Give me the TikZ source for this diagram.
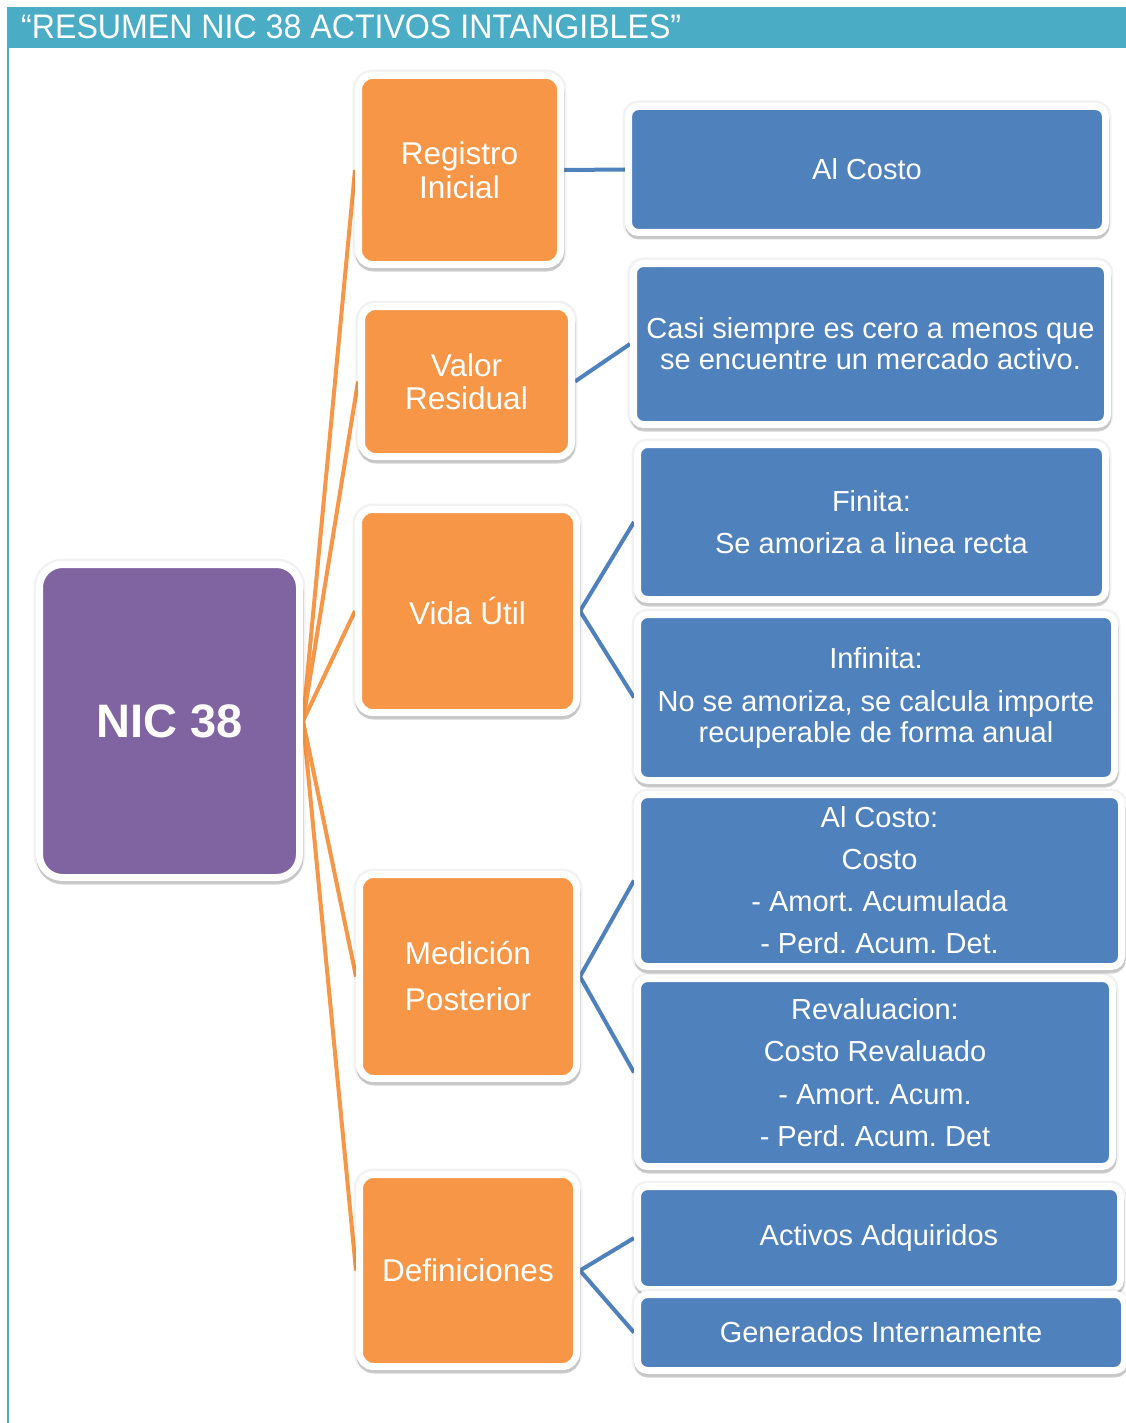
\documentclass[tikz,border=0pt]{standalone}
\usepackage{fontspec}
\setmainfont{Liberation Sans}
\newfontfamily\titlefont[FakeStretch=0.945]{Liberation Sans}
\usetikzlibrary{shadows}
\pgfdeclarelayer{background}
\pgfsetlayers{background,main}
\definecolor{orng}{HTML}{F79646}
\definecolor{blu}{HTML}{4F81BD}
\definecolor{purp}{HTML}{8064A2}
\definecolor{teal2}{HTML}{4BACC6}
\tikzset{
  boxbase/.style={draw=white, line width=7pt, inner sep=0pt, align=center, text=white,
    preaction={draw=black, draw opacity=0.05, line width=12pt},
    drop shadow={shadow xshift=0.5pt, shadow yshift=-3.5pt, opacity=0.3, fill=black!60, draw=black!60}},
  obox/.style={boxbase, fill=orng, rounded corners=14pt, font=\fontsize{31.5}{34}\selectfont},
  bbox/.style={boxbase, fill=blu, rounded corners=10pt, font=\fontsize{29}{31}\selectfont},
  pbox/.style={boxbase, fill=purp, rounded corners=23pt, font=\bfseries\fontsize{47}{50}\selectfont},
  oline/.style={draw=orng, line width=4pt},
  bline/.style={draw=blu, line width=4pt},
}
\begin{document}
\frenchspacing
\begin{tikzpicture}[x=1pt,y=-1pt]
\useasboundingbox (0,0) rectangle (1126,1423);
\begin{pgfonlayer}{background}
\fill[white] (0,0) rectangle (1126,1423);
\end{pgfonlayer}
% title bar and frame
\fill[teal2] (7,7) rectangle (1126,48);
\draw[teal2, line width=2.5pt] (8,48) -- (8,1423);
\node[anchor=base west, inner sep=0pt, text=white, font=\titlefont\fontsize{34}{36}\selectfont] (title) at (21,39) {“RESUMEN NIC 38 ACTIVOS INTANGIBLES”};

% central node
\node[pbox, minimum width=260pt, minimum height=313pt] (nic) at (169.5,721) {NIC 38};

% orange boxes
\node[obox, minimum width=202pt, minimum height=189pt] (reg) at (459.5,170) {Registro\\Inicial};
\node[obox, minimum width=210pt, minimum height=150pt, font=\fontsize{31.5}{33}\selectfont] (val) at (466.5,381.5) {Valor\\Residual};
\node[obox, minimum width=218pt, minimum height=203pt] (vida) at (467.5,611) {Vida Útil};
\node[obox, minimum width=217pt, minimum height=204pt, font=\fontsize{31.5}{46}\selectfont] (med) at (468,976.5) {Medición\\Posterior};
\node[obox, minimum width=217pt, minimum height=192pt] (def) at (468,1270.5) {Definiciones};

% blue boxes
\node[bbox, minimum width=477pt, minimum height=126pt] (ac1) at (867,169.5) {Al Costo};
\node[bbox, minimum width=474pt, minimum height=161pt] (casi) at (870.5,344) {Casi siempre es cero a menos que\\se encuentre un mercado activo.};
\node[bbox, minimum width=468pt, minimum height=155pt, font=\fontsize{29}{42}\selectfont] (fin) at (871.5,522) {Finita:\\Se amoriza a linea recta};
\node[bbox, minimum width=477pt, minimum height=166pt] (inf) at (876,697.5) {Infinita:\\[12pt]No se amoriza, se calcula importe\\recuperable de forma anual};
\node[bbox, minimum width=484pt, minimum height=172pt, font=\fontsize{29}{42}\selectfont] (ac2) at (879.5,880.5) {Al Costo:\\Costo\\- Amort. Acumulada\\- Perd. Acum. Det.};
\node[bbox, minimum width=475pt, minimum height=188pt, font=\fontsize{29}{42.5}\selectfont] (rev) at (875,1072.5) {Revaluacion:\\Costo Revaluado\\- Amort. Acum.\\- Perd. Acum. Det};
\node[bbox, minimum width=483pt, minimum height=103pt] (act) at (879,1238) {Activos Adquiridos};
\node[bbox, minimum width=487pt, minimum height=76pt] (gen) at (881,1332.5) {Generados Internamente};

% connectors behind the boxes
\begin{pgfonlayer}{background}
\draw[oline] (nic.east) -- (reg.west);
\draw[oline] (nic.east) -- (val.west);
\draw[oline] (nic.east) -- (vida.west);
\draw[oline] (nic.east) -- (med.west);
\draw[oline] (nic.east) -- (def.west);
\draw[bline] (reg.east) -- (ac1.west);
\draw[bline] (val.east) -- (casi.west);
\draw[bline] (vida.east) -- (fin.west);
\draw[bline] (vida.east) -- (inf.west);
\draw[bline] (med.east) -- (ac2.west);
\draw[bline] (med.east) -- (rev.west);
\draw[bline] (def.east) -- (act.west);
\draw[bline] (def.east) -- (gen.west);
\end{pgfonlayer}
\end{tikzpicture}
\end{document}
